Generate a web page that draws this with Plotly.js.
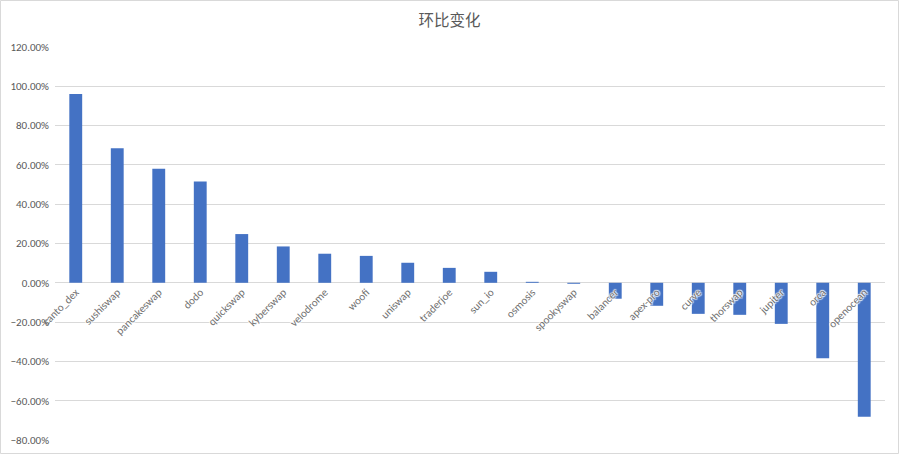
<!DOCTYPE html>
<html>
<head>
<meta charset="utf-8">
<script src="https://cdn.plot.ly/plotly-3.0.1.min.js"></script>
<style>html,body{margin:0;padding:0;background:#fff;}#chart{width:899px;height:454px;}</style>
</head>
<body>
<div id="chart"></div>
<script>
const categories = ["canto_dex","sushiswap","pancakeswap","dodo","quickswap","kyberswap","velodrome","woofi","uniswap","traderjoe","sun_io","osmosis","spookyswap","balancer","apex-pro","curve","thorswap","jupiter","orca","openocean"];
const changes = [0.961,0.685,0.580,0.515,0.248,0.185,0.148,0.137,0.102,0.076,0.056,0.005,-0.005,-0.081,-0.117,-0.158,-0.163,-0.209,-0.384,-0.682];
const titleText = "环比变化";

const W = 899, H = 454;
const m = {l:55, r:14, t:47, b:14};
const pw = W - m.l - m.r, ph = H - m.t - m.b;
const yRange = [-0.8, 1.2];
const zeroPos = (0 - yRange[0]) / (yRange[1] - yRange[0]);
const font = "Calibri, 'Liberation Sans', 'Noto Sans CJK SC', sans-serif";
const xRange = [-0.5, categories.length - 0.5];

const trace = {
  type: 'bar',
  x: categories,
  y: changes,
  marker: {color: '#4472c4', line: {width: 0}},
  hoverinfo: 'x+y'
};

const layout = {
  width: W, height: H,
  margin: m,
  paper_bgcolor: '#fff',
  plot_bgcolor: '#fff',
  showlegend: false,
  bargap: 0.69,
  title: {
    text: titleText,
    x: 0.5, xref: 'container', xanchor: 'center',
    y: 1 - 21/H, yref: 'container', yanchor: 'middle',
    font: {family: "'Noto Sans CJK SC', sans-serif", size: 15.5, color: '#595959'}
  },
  xaxis: {
    type: 'category',
    anchor: 'free',
    position: zeroPos,
    layer: 'above traces',
    showline: false, showgrid: false, zeroline: false,
    ticks: '',
    tickangle: -45,
    tickfont: {
      family: font, size: 11, color: '#707070',
      shadow: '1px 0 1px #fff, -1px 0 1px #fff, 0 1px 1px #fff, 0 -1px 1px #fff'
    },
    range: xRange,
    fixedrange: true
  },
  yaxis: {
    range: yRange,
    dtick: 0.2,
    tick0: 0,
    tickformat: '.2%',
    showgrid: true,
    gridcolor: '#d9d9d9',
    gridwidth: 1,
    zeroline: true,
    zerolinecolor: '#d9d9d9',
    zerolinewidth: 1,
    showline: false,
    ticks: '',
    ticklabelstandoff: 5,
    tickfont: {family: font, size: 11, color: '#595959'},
    fixedrange: true
  },
  shapes: [{
    type: 'rect', xref: 'paper', yref: 'paper',
    x0: (0.5 - m.l) / pw, x1: (W - 0.5 - m.l) / pw,
    y0: (0.5 - m.b) / ph, y1: (H - 0.5 - m.b) / ph,
    line: {color: '#d9d9d9', width: 1}, fillcolor: 'rgba(0,0,0,0)', layer: 'below'
  }]
};

Plotly.newPlot('chart', [trace], layout, {displayModeBar: false, staticPlot: true});
</script>
</body>
</html>
